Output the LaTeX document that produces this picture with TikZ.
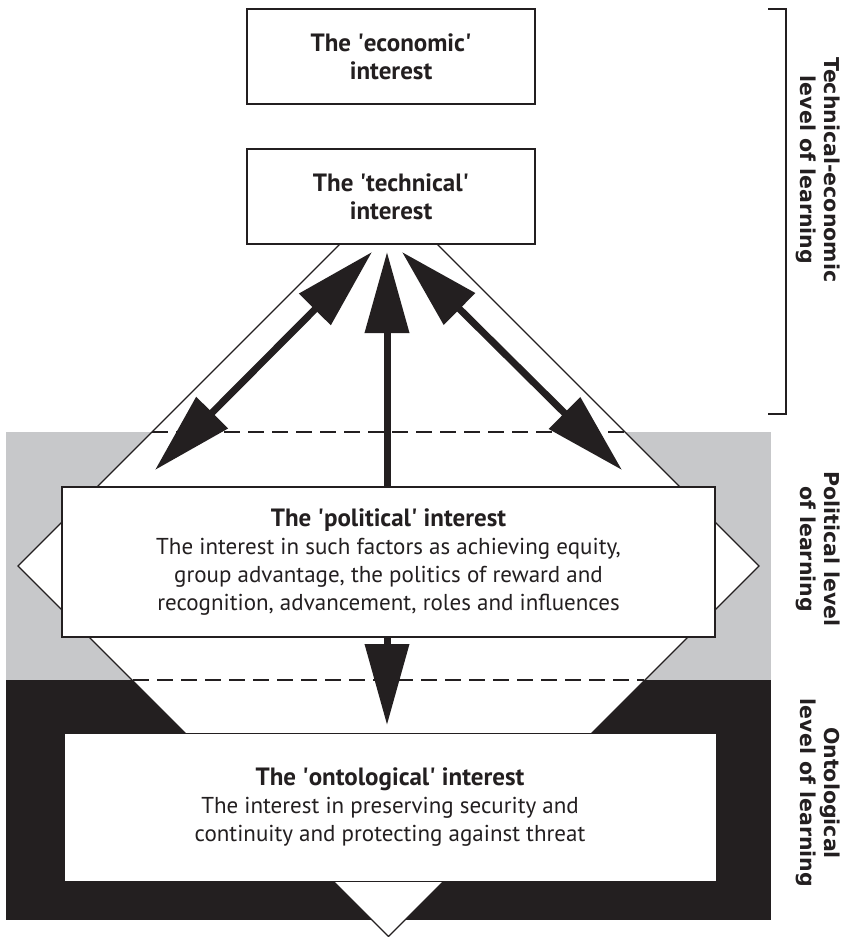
\documentclass[tikz,border=0pt]{standalone}
\usepackage{fontspec}
\setmainfont{PT Sans}
\newfontfamily\labfont{DejaVu Sans}
\usetikzlibrary{arrows.meta}
\definecolor{bandgray}{HTML}{C7C8CA}
\definecolor{bandblack}{HTML}{231F20}
\newcommand{\sq}{\textquotesingle}
\begin{document}
\begin{tikzpicture}[x=1pt,y=-1pt,
  box/.style={draw=bandblack, line width=1.6pt, fill=white, inner sep=0pt, align=center, text=bandblack},
  ttl/.style={font=\fontsize{25}{28}\selectfont\bfseries},
  body/.style={font=\fontsize{23}{27.7}\selectfont},
  lab/.style={font=\labfont\fontsize{20.5}{23.5}\selectfont\bfseries, rotate=-90, align=center, inner sep=0pt, text=bandblack},
  tip/.tip={Triangle[length=81pt,width=43pt]},
  arr/.style={draw=bandblack, line width=7pt, -tip},
  dbl/.style={draw=bandblack, line width=7pt, tip-tip},
  dashline/.style={draw=bandblack, line width=1.4pt, dash pattern=on 16pt off 8pt},
  edge/.style={draw=bandblack, line width=1.3pt}
]
\useasboundingbox (0,0) rectangle (849,937);
% level bands
\fill[bandgray] (6,432) rectangle (771,680);
\fill[bandblack] (6,680) rectangle (771,920);
% diamond
\coordinate (dT) at (388.5,195.5);
\coordinate (dR) at (759,566);
\coordinate (dB) at (388.5,936.5);
\coordinate (dL) at (18,566);
\filldraw[edge, fill=white] (dT) -- (dR) -- (dB) -- (dL) -- cycle;
% dashed level borders
\draw[dashline] (152,432) -- (625,432);
\draw[dashline] (133,680) -- (644,680);
% boxes
\node[box, ttl, minimum width=288pt, minimum height=95pt] (eco) at (391,56.5)
  {The \sq economic\sq\\interest};
\node[box, ttl, minimum width=288pt, minimum height=95pt] (tech) at (391,196.5)
  {The \sq technical\sq\\interest};
\node[box, body, minimum width=653pt, minimum height=150pt] (pol) at (388.5,562)
  {{\fontsize{25}{27.7}\selectfont\bfseries The \sq political\sq{} interest}\\
   The interest in such factors as achieving equity,\\
   group advantage, the politics of reward and\\
   recognition, advancement, roles and influences};
\node[box, body, line width=1pt, minimum width=652pt, minimum height=148pt] (ont) at (390,807)
  {{\fontsize{25}{27.7}\selectfont\bfseries The \sq ontological\sq{} interest}\\
   The interest in preserving security and\\
   continuity and protecting against threat};
% arrows
\coordinate (lt) at (372,252);
\coordinate (lb) at (155,470);
\coordinate (rt) at (402,252);
\coordinate (rb) at (622,470);
\coordinate (vt) at (387,252);
\coordinate (dt) at (387,725);
\draw[dbl] (lt) -- (lb);
\draw[dbl] (rt) -- (rb);
\draw[arr] (vt |- pol.north) -- (vt);
\draw[arr] (dt |- pol.south) -- (dt);
% bracket
\coordinate (bt) at (768,9);
\coordinate (bb) at (768,414);
\draw[bandblack, line width=1.5pt] (bt) -- ++(18,0) -- ([xshift=18pt]bb) -- (bb);
% level labels
\node[lab] (labTE) at (818,170) {Technical-economic\\level of learning};
\node[lab] (labP) at (818,549) {Political level\\of learning};
\node[lab] (labO) at (818,793) {Ontological\\level of learning};
\end{tikzpicture}
\end{document}
